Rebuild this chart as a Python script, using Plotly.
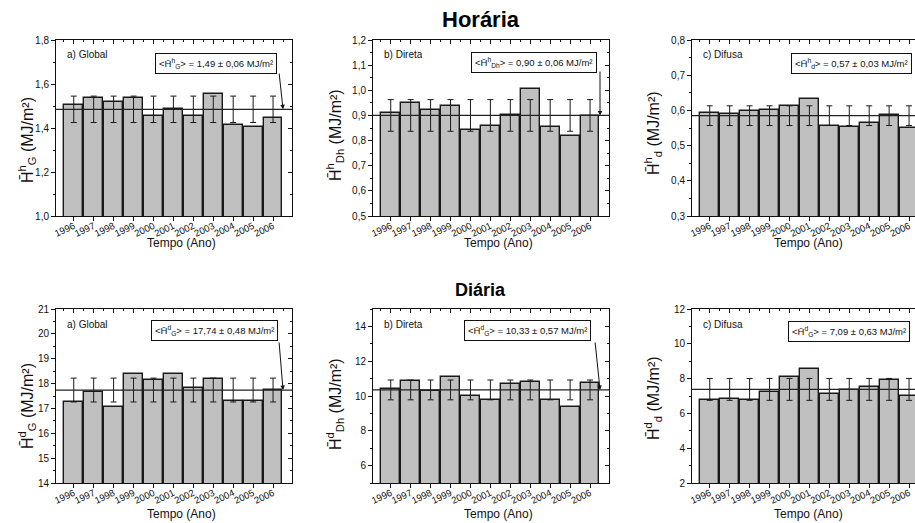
import plotly.graph_objects as go

W, H = 915, 523

# ---------------- data ----------------
years = [1996, 1997, 1998, 1999, 2000, 2001, 2002, 2003, 2004, 2005, 2006]
year_labels = [str(y) for y in years]

hor_global = [1.505, 1.538, 1.518, 1.535, 1.455, 1.487, 1.455, 1.555, 1.415, 1.403, 1.445]
hor_direta = [0.911, 0.948, 0.921, 0.937, 0.844, 0.857, 0.901, 1.004, 0.853, 0.819, 0.896]
hor_difusa = [0.594, 0.591, 0.598, 0.600, 0.613, 0.632, 0.557, 0.553, 0.564, 0.587, 0.551]
dia_global = [17.27, 17.68, 17.07, 18.40, 18.13, 18.37, 17.84, 18.17, 17.29, 17.29, 17.75]
dia_direta = [10.40, 10.85, 10.30, 11.12, 10.00, 9.78, 10.68, 10.82, 9.75, 9.38, 10.75]
dia_difusa = [6.75, 6.83, 6.75, 7.23, 8.09, 8.57, 7.11, 7.33, 7.52, 7.90, 6.98]

mean_lines = [1.485, 0.900, 0.585, 17.74, 10.35, 7.38]
std_devs = [0.060, 0.063, 0.028, 0.48, 0.57, 0.63]

panel_labels = ["a) Global", "b) Direta", "c) Difusa", "a) Global", "b) Direta", "c) Difusa"]
box_texts = [
    "&lt;H̄<sup>h</sup><sub>G</sub>&gt; = 1,49 ± 0,06 MJ/m²",
    "&lt;H̄<sup>h</sup><sub>Dh</sub>&gt; = 0,90 ± 0,06 MJ/m²",
    "&lt;H̄<sup>h</sup><sub>d</sub>&gt; = 0,57 ± 0,03 MJ/m²",
    "&lt;H̄<sup>d</sup><sub>G</sub>&gt; = 17,74 ± 0,48 MJ/m²",
    "&lt;H̄<sup>d</sup><sub>G</sub>&gt; = 10,33 ± 0,57 MJ/m²",
    "&lt;H̄<sup>d</sup><sub>G</sub>&gt; = 7,09 ± 0,63 MJ/m²",
]
y_titles = [
    "H̄<sup>h</sup><sub>G</sub> (MJ/m²)",
    "H̄<sup>h</sup><sub>Dh</sub> (MJ/m²)",
    "H̄<sup>h</sup><sub>d</sub> (MJ/m²)",
    "H̄<sup>d</sup><sub>G</sub> (MJ/m²)",
    "H̄<sup>d</sup><sub>Dh</sub> (MJ/m²)",
    "H̄<sup>d</sup><sub>d</sub> (MJ/m²)",
]
y_ranges = [[1.0, 1.8], [0.5, 1.2], [0.3, 0.8], [14, 21], [5, 15], [2, 12]]
y_tick0 = [1.0, 0.5, 0.3, 14, 6, 2]
y_dtick = [0.2, 0.1, 0.1, 1, 2, 2]
y_minor = [0.1, 0.05, 0.05, 0.5, 1, 1]
y_formats = [".1f", ".1f", ".1f", "d", "d", "d"]
x_title = "Tempo (Ano)"
row_titles = ["Horária", "Diária"]

series = [hor_global, hor_direta, hor_difusa, dia_global, dia_direta, dia_difusa]

# ---------------- geometry (pixels) ----------------
col_px = [(56, 292), (373, 609), (692, 928)]   # third column runs past the image edge
row_px = [(40, 216), (309, 483)]
x_full = [1995.11, 2006.95]
box_centers = [(216, 63.5), (534, 62), (851, 63), (214, 330.5), (527, 330.5), (849, 331)]
arrow_tails = [(279, 72), (600, 70), (912, 72), (279, 341), (595, 341), None]
xtitle_y = [243, 514]
xtitle_x = [181, 498, 808]
ytitle_x = [27, 335, 653]
ytitle_y = [[140, 135, 133], [406, 404, 398]]

FONT = "Liberation Sans, Arial, sans-serif"
INK = "#111111"


def px_x(p):
    return p / W


def px_y(p):
    return 1 - p / H


fig = go.Figure()
layout = {}
annotations = []
shapes = []

for i in range(6):
    r, c = divmod(i, 3)
    n = i + 1
    m = i + 7
    xa = "x" if n == 1 else f"x{n}"
    ya = "y" if n == 1 else f"y{n}"
    xname = "xaxis" if n == 1 else f"xaxis{n}"
    yname = "yaxis" if n == 1 else f"yaxis{n}"

    c0, c1 = col_px[c]
    r0, r1 = row_px[r]
    right = min(c1, W)
    xr0, xr1 = x_full
    xr1c = xr0 + (right - c0) / (c1 - c0) * (xr1 - xr0)
    has_right = c1 <= W

    fig.add_trace(go.Bar(
        x=years, y=series[i], xaxis=xa, yaxis=ya, width=0.94,
        marker=dict(color="#c0c0c0", line=dict(color="#1a1a1a", width=1.4)),
        hovertemplate="%{x}: %{y}<extra></extra>",
    ))
    fig.add_trace(go.Scatter(
        x=years, y=[mean_lines[i]] * len(years), xaxis=xa, yaxis=ya,
        mode="markers", marker=dict(size=1, opacity=0),
        error_y=dict(type="constant", value=std_devs[i], color="#1a1a1a",
                     thickness=1, width=3),
        hoverinfo="skip",
    ))
    fig.add_trace(go.Scatter(
        x=[years[0]], y=[mean_lines[i]], xaxis=f"x{m}", yaxis=f"y{m}",
        mode="markers", marker=dict(opacity=0), hoverinfo="skip",
    ))

    layout[xname] = dict(
        domain=[px_x(c0), px_x(right)], anchor=ya, range=[xr0, xr1c],
        tickmode="array", tickvals=years, ticktext=year_labels, tickangle=-25,
        ticks="outside", ticklen=4, tickcolor=INK, showline=True,
        linecolor=INK, linewidth=1, showgrid=False, zeroline=False,
        tickfont=dict(family=FONT, size=9.5, color=INK), ticklabelstandoff=-4,
        automargin=False,
    )
    layout[yname] = dict(
        domain=[px_y(r1), px_y(r0)], anchor=xa, range=y_ranges[i],
        tickmode="linear", tick0=y_tick0[i], dtick=y_dtick[i], tickformat=y_formats[i],
        ticks="outside", ticklen=4, tickcolor=INK,
        minor=dict(dtick=y_minor[i], ticks="outside", ticklen=2, tickcolor=INK, showgrid=False),
        showline=True, linecolor=INK, linewidth=1, showgrid=False, zeroline=False,
        tickfont=dict(family=FONT, size=10, color=INK),
        automargin=False,
    )
    layout[f"xaxis{m}"] = dict(
        overlaying=xa, side="top", anchor=f"y{m}", range=[xr0, xr1c],
        tickmode="linear", tick0=1996, dtick=1, ticks="inside", ticklen=4, tickcolor=INK,
        minor=dict(dtick=0.5, ticks="inside", ticklen=2, tickcolor=INK, showgrid=False),
        showticklabels=False, showline=True, linecolor=INK, linewidth=1,
        showgrid=False, zeroline=False, automargin=False,
    )
    layout[f"yaxis{m}"] = dict(
        overlaying=ya, side="right", anchor=f"x{m}", range=y_ranges[i],
        tickmode="linear", tick0=y_tick0[i], dtick=y_dtick[i],
        ticks="inside" if has_right else "", ticklen=4, tickcolor=INK,
        minor=dict(dtick=y_minor[i], ticks="inside" if has_right else "", ticklen=2,
                   tickcolor=INK, showgrid=False),
        showticklabels=False, showline=has_right, linecolor=INK, linewidth=1,
        showgrid=False, zeroline=False, automargin=False,
    )

    # mean line
    shapes.append(dict(type="line", xref=f"{xa} domain", yref=ya, x0=0, x1=1,
                       y0=mean_lines[i], y1=mean_lines[i],
                       line=dict(color="#222222", width=1.2)))

    # axis titles
    annotations.append(dict(text=x_title, xref="paper", yref="paper",
                            x=px_x(xtitle_x[c]), y=px_y(xtitle_y[r]),
                            xanchor="center", yanchor="middle", showarrow=False,
                            font=dict(family=FONT, size=12, color=INK)))
    annotations.append(dict(text=y_titles[i], xref="paper", yref="paper",
                            x=px_x(ytitle_x[c]), y=px_y(ytitle_y[r][c]), textangle=-90,
                            xanchor="center", yanchor="middle", showarrow=False,
                            font=dict(family=FONT, size=16, color=INK)))
    # panel label
    annotations.append(dict(text=panel_labels[i], xref="paper", yref="paper",
                            x=px_x(c0 + 9), y=px_y(r0 + 15), xanchor="left",
                            yanchor="middle", showarrow=False,
                            font=dict(family=FONT, size=10, color=INK)))
    # value box
    bx, by = box_centers[i]
    annotations.append(dict(text=box_texts[i], xref="paper", yref="paper",
                            x=px_x(bx), y=px_y(by), xanchor="center", yanchor="middle",
                            showarrow=False, bordercolor=INK, borderwidth=1, borderpad=3,
                            bgcolor="white", font=dict(family=FONT, size=9.5, color=INK)))
    # arrow from box to the mean line end
    if arrow_tails[i] is not None:
        yr0, yr1 = y_ranges[i]
        head_x = 2006.5
        hpx = c0 + (head_x - xr0) / (xr1 - xr0) * (c1 - c0)
        hpy = r0 + (yr1 - mean_lines[i]) / (yr1 - yr0) * (r1 - r0)
        tx, ty = arrow_tails[i]
        annotations.append(dict(text="", xref=xa, yref=ya, x=head_x, y=mean_lines[i],
                                showarrow=True, ax=tx - hpx, ay=ty - hpy,
                                arrowhead=2, arrowsize=0.9, arrowwidth=1,
                                arrowcolor=INK, standoff=0))

annotations.append(dict(text=f"<b>{row_titles[0]}</b>", xref="paper", yref="paper",
                        x=px_x(481), y=px_y(19), xanchor="center", yanchor="middle",
                        showarrow=False, font=dict(family=FONT, size=22, color="black")))
annotations.append(dict(text=f"<b>{row_titles[1]}</b>", xref="paper", yref="paper",
                        x=px_x(480), y=px_y(290), xanchor="center", yanchor="middle",
                        showarrow=False, font=dict(family=FONT, size=18, color="black")))

fig.update_layout(
    width=W, height=H, margin=dict(l=0, r=0, t=0, b=0),
    paper_bgcolor="white", plot_bgcolor="white", showlegend=False,
    separators=",.", bargap=0, annotations=annotations, shapes=shapes,
    font=dict(family=FONT, color=INK),
    **layout,
)

fig.write_html(
    "out.html",
    config={"displayModeBar": False},
    post_script="document.body.style.margin='0';document.body.style.overflow='hidden';",
)
